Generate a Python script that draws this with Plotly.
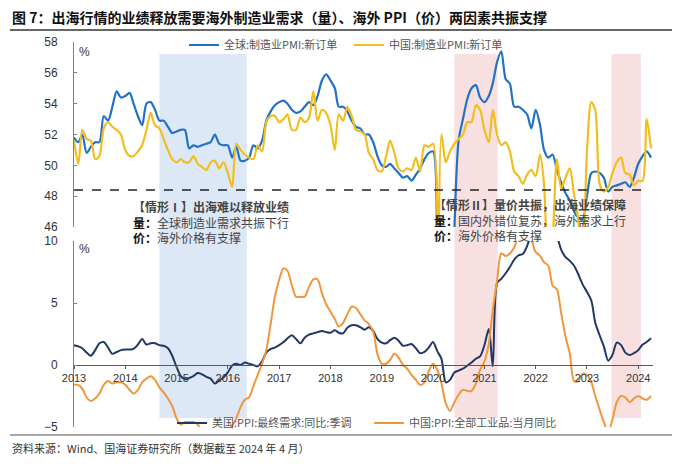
import pandas as pd
import plotly.graph_objects as go

# monthly data, 2013-01 .. 2024-04
months = pd.date_range("2013-01-01", "2024-04-01", freq="MS")

global_pmi_new_orders = [
    51.8, 51.5, 52.0, 50.8, 51.2, 51.5, 51.5, 53.2, 52.9, 53.8, 54.8, 54.4,
    54.5, 54.7, 54.0, 53.2, 52.6, 54.0, 54.1, 53.6, 52.9, 52.9, 52.5, 52.1,
    52.2, 52.3, 52.3, 51.1, 51.3, 51.2, 51.3, 51.4, 51.5, 52.0, 51.4, 51.3,
    51.3, 50.5, 51.2, 50.3, 50.3, 50.5, 51.3, 51.1, 51.6, 52.9, 53.5, 53.9,
    54.1, 54.2, 54.0, 53.6, 53.4, 53.5, 53.8, 54.1, 53.9, 54.5, 55.5, 55.9,
    55.5, 55.0, 53.8, 53.8, 53.5, 52.9, 52.5, 52.4, 52.0, 52.0, 51.5, 50.6,
    50.0, 49.9, 50.1, 49.8, 49.5, 49.2, 49.3, 49.0, 49.4, 49.8, 50.4, 50.8,
    50.9, 42.0, 38.0, 26.0, 33.0, 45.8, 51.6, 53.0, 54.3, 55.0, 55.2, 54.4,
    54.1, 54.5, 55.3, 56.7, 57.4, 55.6, 55.3, 53.8, 53.8, 53.6, 53.3, 52.4,
    53.6, 52.6, 51.0, 50.5, 50.7, 49.7, 48.9, 48.2, 47.7, 47.0, 46.6, 46.5,
    48.0, 49.5, 49.6, 49.5, 49.2, 48.3, 48.6, 48.7, 48.8, 48.9, 48.6, 49.2,
    50.1, 50.6, 50.9, 50.5,
]

china_pmi_new_orders = [
    51.6, 50.1, 52.3, 51.7, 51.6, 50.4, 50.6, 52.4, 52.8, 52.5, 52.3, 52.0,
    51.0, 50.6, 50.6, 50.9, 51.3, 52.3, 53.4, 52.6, 52.4, 51.7, 51.0, 50.4,
    50.2, 50.4, 50.2, 50.2, 50.6, 50.1, 49.9, 49.7, 50.2, 50.3, 49.8, 50.2,
    49.5, 48.6, 51.4, 51.0, 50.7, 50.5, 50.4, 51.3, 50.9, 52.8, 53.2, 53.2,
    52.8, 53.0, 53.3, 52.3, 52.3, 53.1, 52.8, 53.1, 54.8, 52.9, 53.6, 53.4,
    52.6, 51.0, 53.3, 52.9, 53.8, 53.2, 52.3, 52.2, 52.0, 50.8, 50.4, 49.7,
    49.6, 50.6, 51.6, 50.8, 49.8, 49.6, 49.8, 49.7, 50.5, 49.6, 51.3, 51.2,
    51.4, 29.3, 52.0, 50.2, 50.9, 51.4, 51.7, 52.0, 52.8, 52.8, 53.9, 53.6,
    52.3, 51.5, 53.6, 52.0, 51.3, 51.5, 50.9, 49.6, 49.3, 48.8, 49.4, 49.7,
    49.3, 50.7, 48.8, 42.6, 45.0, 50.4, 48.5, 49.2, 49.8, 48.1, 46.4, 43.9,
    50.9, 54.1, 53.6, 48.8, 48.3, 48.6, 49.5, 50.2, 50.5, 49.5, 49.4, 48.7,
    49.0, 49.0, 53.0, 51.1,
]

us_ppi_final_demand = [
    1.6, 1.5, 1.35, 1.0, 0.75, 1.2, 1.75, 1.85, 1.4, 0.9, 1.05, 1.2,
    1.25, 1.25, 1.3, 1.65, 2.1, 1.65, 1.75, 1.75, 1.6, 1.55, 1.35, 0.75,
    -0.15, -0.9, -1.15, -1.05, -0.9, -0.65, -0.75, -0.95, -1.1, -1.5, -1.25, -1.0,
    -0.6, -0.05, 0.1, 0.0, 0.2, 0.1, 0.0, -0.1, 0.3, 1.0, 1.3, 1.4,
    1.6, 1.85, 2.15, 2.4, 2.1, 1.75, 2.2, 2.45, 2.55, 2.65, 2.75, 2.65,
    2.6, 2.8, 2.6, 2.55, 3.0, 3.2, 3.2, 3.05, 2.85, 3.05, 2.75, 2.1,
    1.8, 1.75, 2.0, 2.2, 1.95, 1.55, 1.6, 1.7, 1.35, 0.95, 1.05, 1.4,
    1.85, 1.1, 0.5, -1.4, -1.2, -0.6, -0.45, -0.3, -0.05, 0.2, 0.5, 0.7,
    1.6, 2.9, -0.1, 6.6, 6.95, 7.4, 7.9, 8.5, 8.85, 8.95, 9.6, 10.6,
    11.0, 11.4, 11.7, 11.3, 11.0, 10.4, 9.3, 8.7, 8.4, 8.0, 7.3, 6.5,
    5.9, 5.2, 3.4, 2.4, 1.5, 0.35, 0.8, 1.8, 1.6, 1.0, 0.8, 0.95,
    1.2, 1.65, 1.85, 2.15,
]

china_ppi_all = [
    -1.6, -1.6, -1.9, -2.6, -2.9, -2.7, -2.3, -1.6, -1.3, -1.5, -1.4, -1.4,
    -1.6, -2.0, -2.3, -2.0, -1.4, -1.1, -0.9, -1.2, -1.8, -2.2, -2.7, -3.3,
    -4.3, -4.8, -4.6, -4.6, -4.6, -4.8, -5.4, -5.9, -5.9, -5.9, -5.9, -5.9,
    -5.3, -4.9, -4.3, -3.4, -2.8, -2.6, -1.7, -0.8, 0.1, 1.2, 3.3, 5.5,
    6.9, 7.8, 7.6, 6.4, 5.5, 5.5, 5.5, 6.3, 6.9, 6.9, 5.8, 4.9,
    4.3, 3.7, 3.1, 3.4, 4.1, 4.7, 4.6, 4.1, 3.6, 3.3, 2.7, 0.9,
    0.1, 0.1, 0.4, 0.9, 0.6, 0.0, -0.3, -0.8, -1.2, -1.6, -1.4, -0.5,
    0.1, -0.4, -1.5, -3.1, -3.7, -3.0, -2.4, -2.0, -2.1, -2.1, -1.5, -0.4,
    0.3, 1.7, 4.4, 6.8, 9.0, 8.8, 9.0, 9.5, 10.7, 13.5, 12.9, 10.3,
    9.1, 8.8, 8.3, 8.0, 6.4, 6.1, 4.2, 2.3, 0.9, -1.3, -1.3, -0.7,
    -0.8, -1.4, -2.5, -3.6, -4.6, -5.4, -4.4, -3.0, -2.5, -2.6, -3.0, -2.7,
    -2.5, -2.7, -2.8, -2.5,
]

# shaded periods: (start, end, colour)
periods = [
    ("2014-09-01", "2016-05-15", "#DCE8F5"),
    ("2020-06-01", "2021-04-05", "#F8E0E1"),
    ("2023-06-25", "2024-01-20", "#F8E0E1"),
]

pmi_threshold = 48.4

# The page body keeps its default 8px margin, so the figure is a bit smaller
# than the window and positions below are given in page pixels.
BODY = 8
FIG_W, FIG_H = 700 - BODY, 464 - BODY
L, T, W, H = 74, 42, 579, 385   # plot area on the page: x 74..653, y 42..427


def px(x):
    return (x - L) / W


def py(y):
    return (T + H - y) / H


CJK = "Noto Sans CJK SC"
LAT = "Liberation Sans, Arial"

fig = go.Figure()

series = [
    # name, values, axis, colour, legend id
    ("全球:制造业PMI:新订单", global_pmi_new_orders, "y2", "#2272C3", "legend"),
    ("中国:制造业PMI:新订单", china_pmi_new_orders, "y2", "#F2BE1E", "legend2"),
    ("美国:PPI:最终需求:同比:季调", us_ppi_final_demand, "y", "#203864", "legend3"),
    ("中国:PPI:全部工业品:当月同比", china_ppi_all, "y", "#F0963C", "legend4"),
]
for name, values, axis, color, leg in series:
    fig.add_trace(go.Scatter(
        x=months, y=values, yaxis=axis, name=name, mode="lines",
        line=dict(color=color, width=2.2 if axis == "y2" else 2,
                  shape="spline", smoothing=0.8),
        legend=leg,
    ))

shapes = []
for start, end, color in periods:
    shapes.append(dict(type="rect", xref="x", yref="paper", x0=start, x1=end,
                       y0=py(418), y1=py(54), fillcolor=color,
                       line=dict(width=0), layer="below"))

# PMI reference dashed line
shapes.append(dict(type="line", xref="paper", yref="y2", x0=0, x1=0.995,
                   y0=pmi_threshold, y1=pmi_threshold,
                   line=dict(color="#222222", width=1.3, dash="dash")))
# rules under title and above source
shapes.append(dict(type="line", xref="paper", yref="paper", x0=px(10), x1=px(672),
                   y0=py(30), y1=py(30), line=dict(color="#333333", width=1.5)))
shapes.append(dict(type="line", xref="paper", yref="paper", x0=px(10), x1=px(672),
                   y0=py(435), y1=py(435), line=dict(color="#555555", width=1.2)))

annotations = [
    dict(x=px(10), y=py(17), xref="paper", yref="paper", xanchor="left", yanchor="middle",
         showarrow=False,
         text="<b>图 7：出海行情的业绩释放需要海外制造业需求（量）、海外 PPI（价）两因素共振支撑</b>",
         font=dict(family=CJK, size=14, color="#111111")),
    dict(x=px(10), y=py(448), xref="paper", yref="paper", xanchor="left", yanchor="middle",
         showarrow=False, text="资料来源：Wind、国海证券研究所（数据截至 2024 年 4 月）",
         font=dict(family=CJK, size=11, color="#333333")),
    dict(x=px(77), y=py(52), xref="paper", yref="paper", xanchor="left", yanchor="middle",
         showarrow=False, text="%", font=dict(family=LAT, size=12, color="#333333")),
    dict(x=px(77), y=py(249), xref="paper", yref="paper", xanchor="left", yanchor="middle",
         showarrow=False, text="%", font=dict(family=LAT, size=12, color="#333333")),
    dict(x=px(131), y=py(222), xref="paper", yref="paper", xanchor="left", yanchor="middle",
         showarrow=False, align="left",
         text=("<b>【情形Ⅰ】出海难以释放业绩</b><br>"
               "<b><span style='color:#111'>量：</span></b>全球制造业需求共振下行<br>"
               "<b><span style='color:#111'>价：</span></b>海外价格有支撑"),
         font=dict(family=CJK, size=12, color="#444444")),
    dict(x=px(432), y=py(220), xref="paper", yref="paper", xanchor="left", yanchor="middle",
         showarrow=False, align="left",
         text=("<b>【情形Ⅱ】量价共振，出海业绩保障</b><br>"
               "<b><span style='color:#111'>量：</span></b>国内外错位复苏，海外需求上行<br>"
               "<b><span style='color:#111'>价：</span></b>海外价格有支撑"),
         font=dict(family=CJK, size=12, color="#444444")),
]


def legend_at(x_page, y_page):
    return dict(orientation="h", x=px(x_page), y=py(y_page), xanchor="left",
                yanchor="middle", bgcolor="rgba(0,0,0,0)",
                font=dict(family=CJK, size=11, color="#555555"))


axis_color = "#7F7F7F"
fig.update_layout(
    width=FIG_W, height=FIG_H,
    margin=dict(l=L - BODY, r=FIG_W - (L - BODY) - W, t=T - BODY,
                b=FIG_H - (T - BODY) - H, autoexpand=False),
    paper_bgcolor="white", plot_bgcolor="white",
    font=dict(family=LAT, size=12, color="#333333"),
    xaxis=dict(
        type="date", range=["2013-01-01", "2024-04-15"],
        anchor="free", position=py(365),
        tick0="2013-01-01", dtick="M12", tickformat="%Y",
        showline=True, linecolor="#595959", linewidth=1,
        ticks="outside", ticklen=3, tickcolor="#595959",
        showgrid=False, zeroline=False,
        tickfont=dict(family=LAT, size=11, color="#333333"),
    ),
    yaxis=dict(
        domain=[0, py(241)], range=[-5, 10], dtick=5, anchor="x",
        showline=True, linecolor=axis_color, ticks="inside", ticklen=3,
        tickcolor=axis_color, showgrid=False, zeroline=False,
        ticklabelstandoff=13,
        tickfont=dict(family=LAT, size=12, color="#333333"),
    ),
    yaxis2=dict(
        domain=[py(227), 1], range=[46, 58], dtick=2, anchor="x",
        showline=True, linecolor=axis_color, ticks="inside", ticklen=3,
        tickcolor=axis_color, showgrid=False, zeroline=False,
        ticklabelstandoff=13,
        tickfont=dict(family=LAT, size=12, color="#333333"),
    ),
    legend=legend_at(184, 45),
    legend2=legend_at(349, 45),
    legend3=legend_at(172, 423),
    legend4=legend_at(369, 423),
    shapes=shapes,
    annotations=annotations,
    showlegend=True,
)

fig.write_html("out.html")
